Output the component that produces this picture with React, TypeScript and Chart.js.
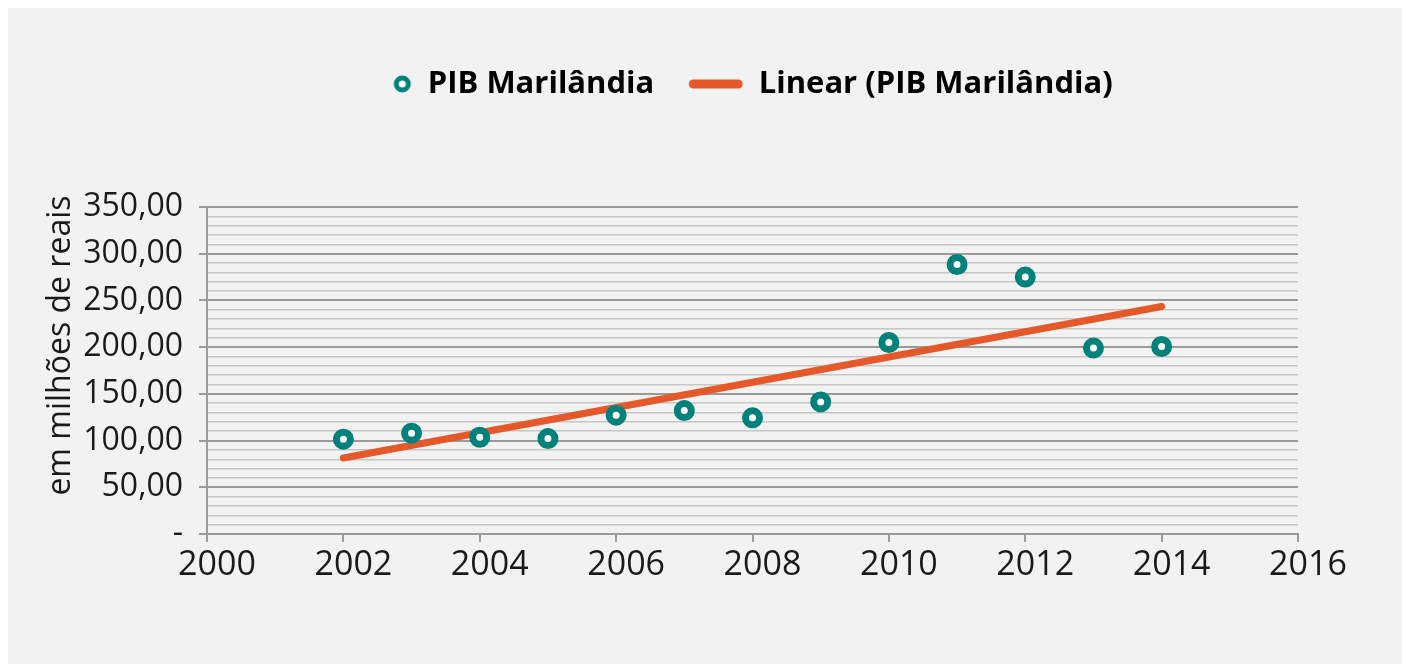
import React, { useEffect, useRef } from "react";
import { Chart, registerables } from "chart.js";

Chart.register(...registerables);

const years = [2002, 2003, 2004, 2005, 2006, 2007, 2008, 2009, 2010, 2011, 2012, 2013, 2014];
const pibValues = [101.5, 107.9, 103.6, 102.1, 127.2, 132.1, 124.3, 141.4, 205.0, 288.5, 275.0, 199.0, 200.7];
const trendYears = [2002, 2014];
const trendValues = [81.4, 243.5];
const seriesNames = ["PIB Marilândia", "Linear (PIB Marilândia)"];
const yAxisTitle = "em milhões de reais";

const TEAL = "#00827b";
const ORANGE = "#e5582a";
const MAJOR = "#9a9a9a";
const MINOR = "#c6c6c6";
const FONT = "'Open Sans', 'Noto Sans', sans-serif";

function makeCircleIcon() {
  const c = document.createElement("canvas");
  c.width = 24;
  c.height = 24;
  const g = c.getContext("2d")!;
  g.beginPath();
  g.arc(12, 12, 6, 0, Math.PI * 2);
  g.lineWidth = 5;
  g.strokeStyle = TEAL;
  g.fillStyle = "#ffffff";
  g.fill();
  g.stroke();
  return c;
}

function makeLineIcon() {
  const c = document.createElement("canvas");
  c.width = 100;
  c.height = 20;
  const g = c.getContext("2d")!;
  g.beginPath();
  g.moveTo(10, 10);
  g.lineTo(55, 10);
  g.lineWidth = 9;
  g.lineCap = "round";
  g.strokeStyle = ORANGE;
  g.stroke();
  return c;
}

export default function App() {
  const ref = useRef<HTMLCanvasElement | null>(null);

  useEffect(() => {
    if (!ref.current) return;
    const circleIcon = makeCircleIcon();
    const lineIcon = makeLineIcon();

    const bgPlugin = {
      id: "bgFill",
      beforeDraw(chart: any) {
        const { ctx, width, height } = chart;
        ctx.save();
        ctx.fillStyle = "#f2f2f2";
        ctx.fillRect(0, 0, width, height);
        ctx.restore();
      },
    };
    const legendSpace = {
      id: "legendSpace",
      afterInit(chart: any) {
        const lg = chart.legend;
        if (!lg) return;
        const orig = lg.fit.bind(lg);
        lg.fit = function () {
          orig();
          this.height = 199;
        };
      },
      afterLayout(chart: any) {
        const lg = chart.legend;
        if (lg) {
          lg.top -= 8.5;
          lg.bottom -= 8.5;
        }
      },
    };

    const chart = new Chart(ref.current, {
      type: "scatter",
      data: {
        datasets: [
          {
            label: seriesNames[0],
            data: years.map((x, i) => ({ x, y: pibValues[i] })),
            pointRadius: 7,
            pointBorderWidth: 7,
            pointBackgroundColor: "#ffffff",
            pointBorderColor: TEAL,
            showLine: false,
            order: 0,
          },
          {
            type: "line",
            label: seriesNames[1],
            data: trendYears.map((x, i) => ({ x, y: trendValues[i] })),
            borderColor: ORANGE,
            borderWidth: 7,
            borderCapStyle: "round",
            pointRadius: 0,
            fill: false,
            order: 1,
          } as any,
        ],
      },
      options: {
        responsive: false,
        animation: false,
        events: [],
        layout: { padding: { left: 34, right: 104, top: 0, bottom: 70 } },
        plugins: {
          tooltip: { enabled: false },
          legend: {
            position: "top",
            fullSize: false,
            labels: {
              usePointStyle: true,
              pointStyleWidth: 20,
              padding: 69,
              color: "#000000",
              font: { family: FONT, size: 31, weight: "bold" },
              generateLabels: () => [
                { text: seriesNames[0], pointStyle: circleIcon as any, fillStyle: TEAL, strokeStyle: TEAL, lineWidth: 0, hidden: false, datasetIndex: 0 },
                { text: seriesNames[1], pointStyle: lineIcon as any, fillStyle: ORANGE, strokeStyle: ORANGE, lineWidth: 0, hidden: false, datasetIndex: 1 },
              ],
            },
          },
        },
        scales: {
          x: {
            type: "linear",
            min: 2000,
            max: 2016,
            afterFit: (s: any) => {
              s.height = 60;
            },
            ticks: {
              stepSize: 2,
              padding: 3,
              labelOffset: 10,
              color: "#1a1a1a",
              font: { family: FONT, size: 34 },
              callback: (v: any) => String(v),
            },
            grid: {
              drawOnChartArea: false,
              drawTicks: true,
              tickLength: 8,
              tickColor: MAJOR,
              tickWidth: 2,
              color: MAJOR,
              lineWidth: 2,
            },
            border: { display: true, color: MAJOR, width: 2 },
          },
          y: {
            min: 0,
            max: 350,
            afterFit: (s: any) => {
              s.width = 165;
            },
            title: {
              display: true,
              text: "      " + yAxisTitle,
              color: "#1a1a1a",
              font: { family: FONT, size: 32 },
              padding: { top: 0, bottom: 0 },
            },
            ticks: {
              stepSize: 10,
              autoSkip: false,
              padding: 16,
              color: "#1a1a1a",
              font: { family: FONT, size: 32 },
              callback: (v: any) => {
                const n = Number(v);
                if (n === 0) return "-";
                if (n % 50 === 0) return n.toFixed(2).replace(".", ",");
                return "";
              },
            },
            grid: {
              drawTicks: true,
              tickLength: 8,
              color: (c: any) => (c.tick && c.tick.value % 50 === 0 ? MAJOR : MINOR),
              lineWidth: (c: any) => (c.tick && c.tick.value % 50 === 0 ? 2 : 1.5),
              tickColor: (c: any) => (c.tick && c.tick.value % 50 === 0 ? MAJOR : "rgba(0,0,0,0)"),
              tickWidth: 2,
            },
            border: { display: true, color: MAJOR, width: 2 },
          },
        },
      },
      plugins: [bgPlugin, legendSpace],
    });
    return () => chart.destroy();
  }, []);

  return (
    <div style={{ width: 1394, height: 656 }}>
      <canvas ref={ref} width={1394} height={656} style={{ display: "block", width: 1394, height: 656 }} />
    </div>
  );
}
